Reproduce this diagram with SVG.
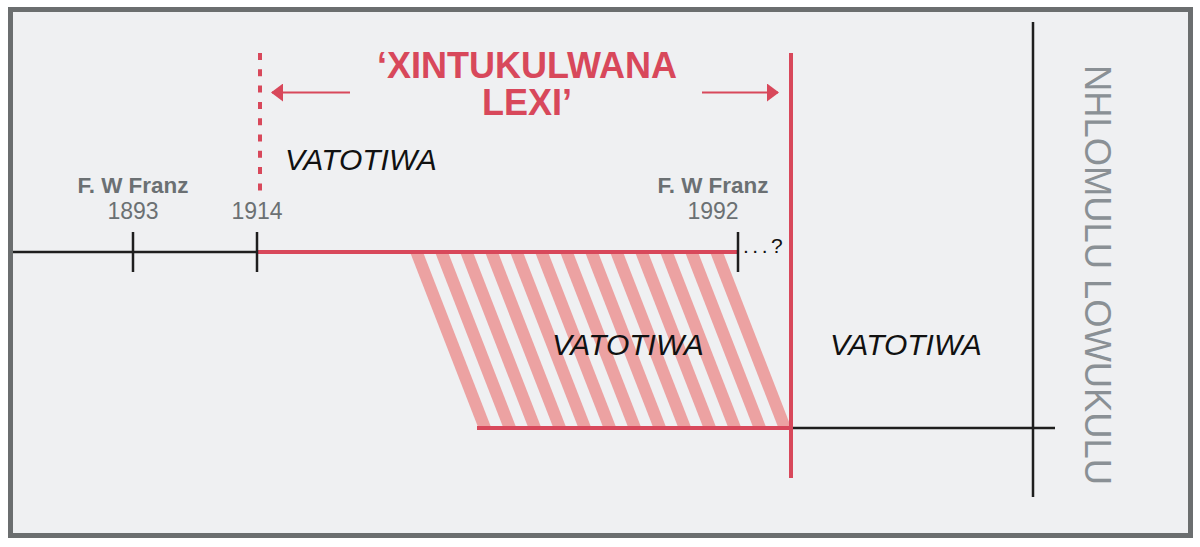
<svg xmlns="http://www.w3.org/2000/svg" width="1200" height="547" viewBox="0 0 1200 547">
<style>
.blk{stroke:#1e1e1e;stroke-width:2.5;fill:none}
.red{stroke:#d8485b;stroke-width:4;fill:none}
.gray{fill:#6b7073;font-family:"Liberation Sans",Arial,sans-serif}
.ital{font-family:"Liberation Sans",Arial,sans-serif;font-style:italic;font-size:30px;fill:#111}
.title{font-family:"Liberation Sans",Arial,sans-serif;font-weight:bold;font-size:36px;fill:#d8485b}
.stripe{fill:#eca2a2}
</style>
<defs>
<marker id="ah" viewBox="0 0 12 18" refX="11" refY="9" markerWidth="12" markerHeight="18" markerUnits="userSpaceOnUse" orient="auto">
<path d="M0,0 L12,9 L0,18 Z" fill="#d8485b"/>
</marker>
</defs>
<rect x="0" y="0" width="1200" height="547" fill="#ffffff"/>
<rect x="10.5" y="9.5" width="1180" height="526" fill="#eff0f2" stroke="#6b6e6f" stroke-width="5"/>
<g id="hatch">
<path class="stripe" d="M410,252 h13 l68,175 h-13 Z"/>
<path class="stripe" d="M435,252 h13 l68,175 h-13 Z"/>
<path class="stripe" d="M460,252 h13 l68,175 h-13 Z"/>
<path class="stripe" d="M485,252 h13 l68,175 h-13 Z"/>
<path class="stripe" d="M510,252 h13 l68,175 h-13 Z"/>
<path class="stripe" d="M535,252 h13 l68,175 h-13 Z"/>
<path class="stripe" d="M560,252 h13 l68,175 h-13 Z"/>
<path class="stripe" d="M585,252 h13 l68,175 h-13 Z"/>
<path class="stripe" d="M610,252 h13 l68,175 h-13 Z"/>
<path class="stripe" d="M635,252 h13 l68,175 h-13 Z"/>
<path class="stripe" d="M660,252 h13 l68,175 h-13 Z"/>
<path class="stripe" d="M685,252 h13 l68,175 h-13 Z"/>
<path class="stripe" d="M710,252 h13 l68,175 h-13 Z"/>
</g>
<g id="connectors">
<line class="blk" x1="13" y1="252" x2="258" y2="252"/>
<line class="red" x1="258" y1="252" x2="738" y2="252"/>
<line class="blk" x1="133" y1="232" x2="133" y2="272"/>
<line class="blk" x1="257" y1="232" x2="257" y2="272"/>
<line class="blk" x1="738" y1="232" x2="738" y2="272"/>
<line x1="260" y1="53" x2="260" y2="192" stroke="#d8485b" stroke-width="4" stroke-dasharray="7,9.3"/>
<line x1="350" y1="92.5" x2="272" y2="92.5" stroke="#d8485b" stroke-width="2" marker-end="url(#ah)"/>
<line x1="702" y1="92.5" x2="778" y2="92.5" stroke="#d8485b" stroke-width="2" marker-end="url(#ah)"/>
<line class="red" x1="477" y1="428" x2="791" y2="428"/>
<line class="blk" x1="791" y1="428" x2="1055" y2="428"/>
<line class="red" x1="791" y1="53" x2="791" y2="478"/>
<line class="blk" x1="1033" y1="22" x2="1033" y2="497"/>
</g>
<g id="title">
<text class="title" text-anchor="middle"><tspan x="527" y="78">‘XINTUKULWANA</tspan><tspan x="527" y="115">LEXI’</tspan></text>
</g>
<g id="label-1893">
<text class="gray" x="133" y="193" text-anchor="middle" font-weight="bold" font-size="22" textLength="111" lengthAdjust="spacingAndGlyphs">F. W Franz</text>
<text class="gray" x="133" y="219" text-anchor="middle" font-size="23">1893</text>
</g>
<g id="label-1914">
<text class="gray" x="257" y="219" text-anchor="middle" font-size="23">1914</text>
</g>
<g id="label-1992">
<text class="gray" x="713" y="193" text-anchor="middle" font-weight="bold" font-size="22" textLength="111" lengthAdjust="spacingAndGlyphs">F. W Franz</text>
<text class="gray" x="713" y="219" text-anchor="middle" font-size="23">1992</text>
</g>
<g id="label-q">
<text x="743" y="253" font-family="Liberation Sans,Arial,sans-serif" font-size="21" fill="#111" letter-spacing="3.5">...?</text>
</g>
<g id="vatotiwa-1"><text class="ital" x="285" y="170">VATOTIWA</text></g>
<g id="vatotiwa-2"><text class="ital" x="552" y="355">VATOTIWA</text></g>
<g id="vatotiwa-3"><text class="ital" x="830" y="355">VATOTIWA</text></g>
<g id="side-label">
<text transform="translate(1085,275) rotate(90)" x="0" y="0" text-anchor="middle" font-family="Liberation Sans,Arial,sans-serif" font-size="37.5" fill="#8a9095" textLength="420" lengthAdjust="spacingAndGlyphs">NHLOMULU LOWUKULU</text>
</g>
</svg>
